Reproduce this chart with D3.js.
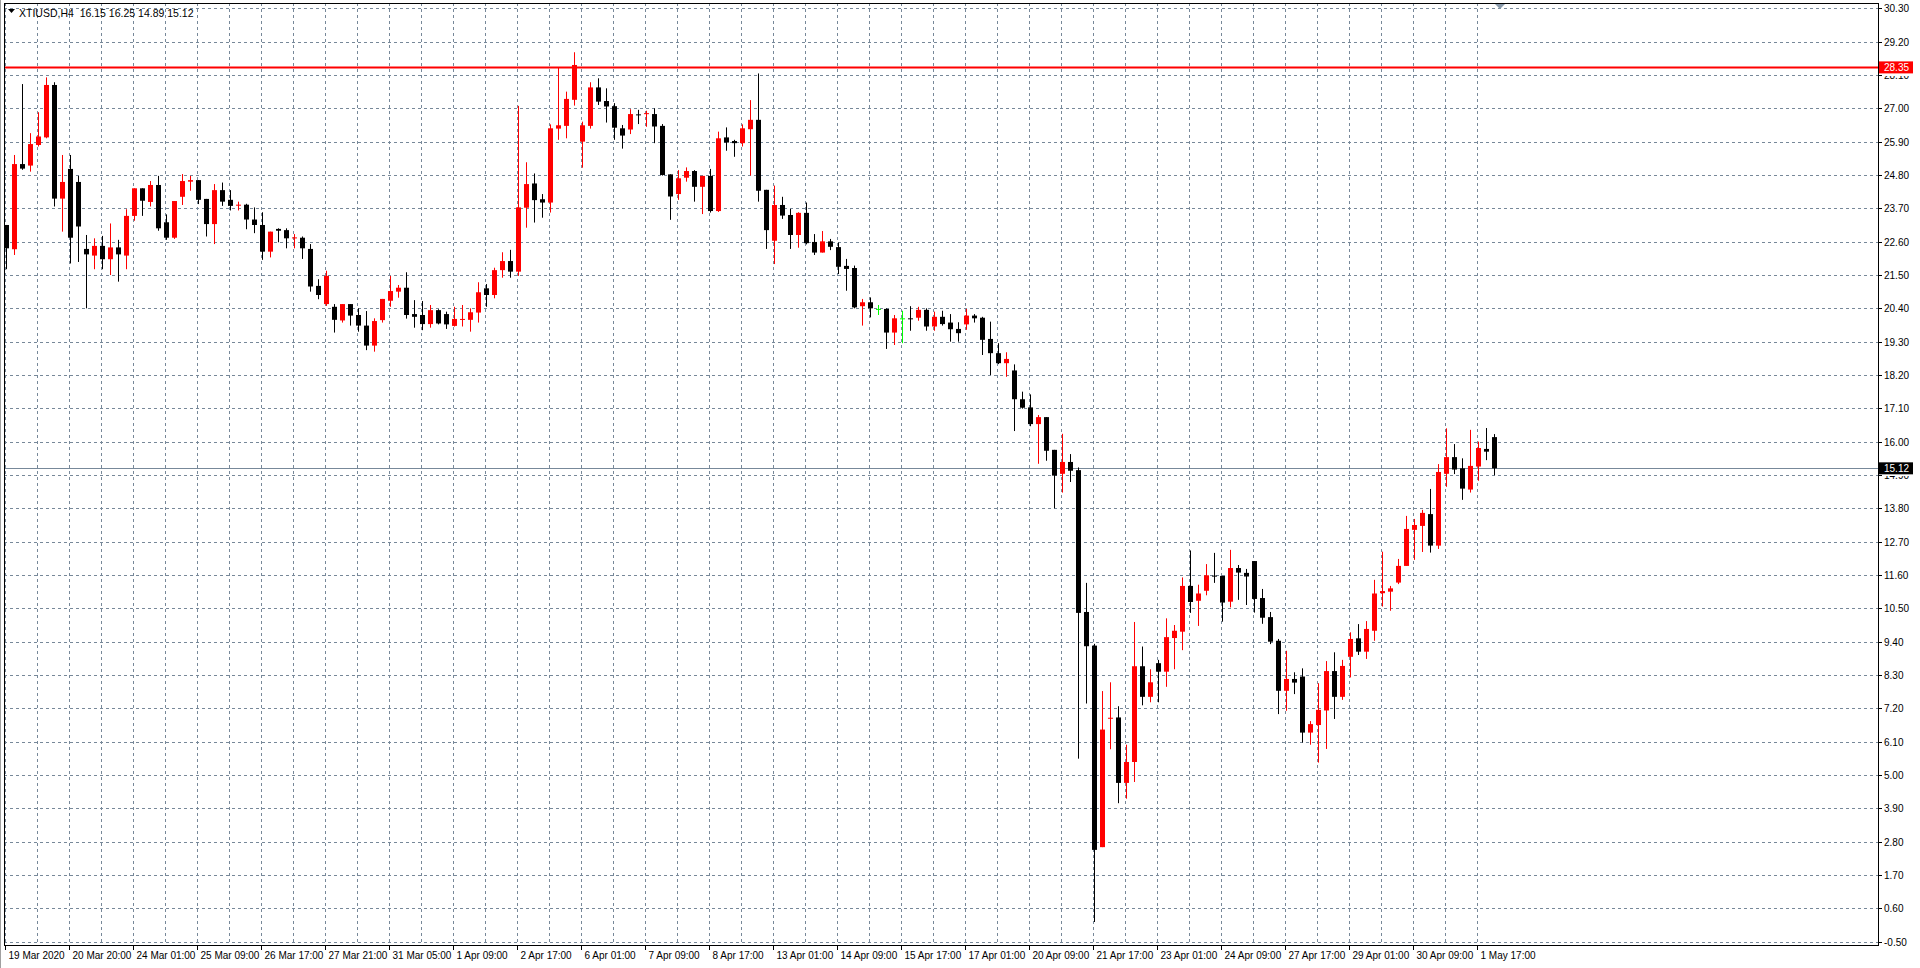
<!DOCTYPE html>
<html lang="en">
<head>
<meta charset="UTF-8">
<title>XTIUSD,H4</title>
<script src="https://d3js.org/d3.v7.min.js"></script>
<style>
  body { margin: 0; background: #fff; }
  svg { display: block; font-family: "Liberation Sans", Arial, sans-serif; }
</style>
</head>
<body>
<div id="chart"></div>
<script>
// H4 candles
const opens = [23.15,22.35,25.16,25.11,25.79,26.04,27.77,24.02,25.00,24.57,22.36,22.14,22.46,22.02,22.41,22.14,23.45,24.36,23.91,24.47,
  23.24,22.73,24.08,24.58,24.63,24.01,23.18,24.30,23.98,23.80,23.82,23.33,23.15,22.27,23.02,22.98,22.71,22.73,22.36,21.14,
  20.54,20.45,20.00,20.54,20.18,19.83,19.17,20.01,20.65,20.95,21.08,20.21,20.18,19.88,20.34,20.21,19.82,20.04,20.02,20.26,
  21.06,20.84,21.66,21.96,21.61,23.72,24.52,24.00,23.89,26.33,26.42,27.28,25.90,26.42,27.69,27.24,27.07,26.34,26.30,26.80,
  26.83,26.81,26.42,24.82,24.17,24.71,24.93,24.41,24.77,23.61,26.04,25.92,25.85,26.31,26.62,24.31,22.63,23.81,23.48,22.82,
  23.55,22.59,22.24,22.61,22.42,21.80,21.73,20.47,20.60,20.38,20.38,19.60,20.07,20.07,20.09,20.35,19.80,20.12,19.93,19.72,
  19.87,20.16,20.09,19.39,18.92,18.59,18.35,17.40,17.13,16.58,16.81,15.73,14.94,15.33,15.06,10.38,9.27,2.62,6.87,6.90,
  4.74,5.43,8.59,7.58,8.69,8.41,9.52,9.73,11.24,10.75,11.08,11.58,11.57,10.72,11.83,11.67,12.06,10.84,10.21,9.43,
  7.78,8.17,8.25,6.40,6.65,7.13,8.43,7.58,8.90,9.51,9.07,9.76,11.00,11.05,11.35,11.90,13.09,13.22,13.61,12.57,
  14.94,15.49,15.12,14.42,15.18,15.76,16.15];
const highs = [23.15,25.46,27.80,26.18,26.87,28.02,27.86,25.46,25.46,24.77,22.82,22.71,22.79,23.20,22.66,23.67,24.36,24.36,24.60,24.77,
  23.50,23.94,24.83,24.77,24.63,24.01,24.50,24.55,24.30,23.92,23.85,23.73,23.57,22.93,23.04,23.04,22.85,22.77,22.52,21.36,
  21.64,20.54,20.54,20.54,20.40,20.31,20.07,20.71,21.47,21.17,21.59,20.67,20.64,20.51,20.37,20.29,20.45,20.51,20.40,21.26,
  21.20,21.74,22.25,22.33,27.08,25.22,24.85,24.17,26.47,28.34,27.55,28.85,26.56,27.86,27.99,27.66,27.17,26.45,26.97,26.95,
  26.92,27.00,26.48,24.82,24.96,25.05,24.96,24.77,25.00,26.23,26.37,25.96,26.47,27.27,28.15,24.31,24.45,24.08,23.68,23.57,
  23.89,22.85,22.95,22.69,22.57,22.03,21.81,20.71,20.76,20.51,20.40,20.18,20.32,20.47,20.45,20.40,20.29,20.32,20.21,19.94,
  20.38,20.21,20.12,19.96,19.25,18.95,18.55,17.65,17.56,16.88,16.81,15.73,16.26,15.59,15.15,11.34,9.33,7.77,8.06,7.27,
  6.00,10.05,9.24,8.49,8.80,10.17,9.95,11.52,12.41,11.28,11.96,12.33,11.57,12.43,11.93,11.80,12.06,11.14,10.38,9.49,
  9.10,8.39,8.52,6.78,8.03,8.76,9.05,8.80,9.71,9.98,10.08,11.44,12.37,11.24,12.13,13.55,13.45,13.75,14.44,15.26,
  16.44,15.92,15.45,16.39,16.00,16.45,16.25];
const lows = [21.69,22.16,24.97,24.91,25.74,26.01,23.76,22.93,21.88,21.93,20.40,21.69,21.69,21.50,21.28,21.69,23.29,23.45,23.76,22.96,
  22.66,22.69,23.81,24.28,23.84,22.77,22.52,23.78,23.63,23.63,23.01,22.88,22.00,22.08,22.58,22.38,22.38,22.03,20.95,20.70,
  20.48,19.60,19.93,19.83,19.63,19.02,18.97,19.93,20.45,20.75,20.06,19.76,19.68,19.76,19.87,19.72,19.80,19.80,19.63,19.93,
  20.45,20.73,21.41,21.41,21.47,23.06,23.23,23.39,23.56,25.96,26.01,27.09,25.04,26.33,27.11,26.53,25.96,25.67,26.15,26.48,
  26.39,25.85,24.78,23.32,23.98,24.58,23.92,23.51,23.56,23.58,25.60,25.40,25.74,24.78,23.92,22.36,21.86,23.35,22.36,22.40,
  22.51,22.16,22.24,22.32,21.53,20.98,20.40,19.83,20.10,20.18,19.06,19.19,19.25,19.66,19.99,19.66,19.66,19.83,19.30,19.30,
  19.69,19.93,18.86,18.20,18.56,18.14,16.35,17.09,16.51,15.27,15.37,13.80,14.32,14.67,5.54,7.36,0.15,2.62,5.85,4.07,
  4.22,4.77,7.30,7.40,7.40,7.91,8.49,9.12,10.35,9.92,10.93,11.34,10.06,10.53,10.78,10.61,10.36,9.99,9.32,7.01,
  7.12,7.67,6.07,6.00,5.41,5.86,6.85,7.48,8.22,8.96,8.83,9.43,10.56,10.42,11.30,11.90,12.10,12.36,12.34,12.46,
  14.51,14.93,14.08,14.32,14.71,15.39,14.89];
const closes = [22.38,25.16,25.01,25.82,26.07,27.77,24.02,24.57,22.73,23.10,22.18,22.46,22.02,22.41,22.18,23.45,24.36,23.95,24.47,23.04,
  22.73,23.94,24.60,24.63,23.98,23.18,24.30,23.92,23.78,23.82,23.33,23.15,22.27,22.93,22.96,22.71,22.74,22.38,21.12,20.84,
  21.47,20.02,20.54,20.16,19.83,19.17,19.98,20.71,20.97,21.08,20.18,20.12,19.88,20.34,19.90,19.87,20.05,20.05,20.27,20.93,
  20.84,21.66,21.96,21.61,23.73,24.50,23.97,23.89,26.34,26.44,27.31,28.43,26.44,27.69,27.22,27.06,26.36,26.10,26.81,26.78,
  26.84,26.40,24.80,24.09,24.69,24.93,24.41,24.77,23.61,26.01,25.87,25.85,26.34,26.62,24.28,22.98,23.81,23.46,22.82,23.55,
  22.55,22.24,22.61,22.43,21.77,21.70,20.43,20.60,20.40,20.38,19.60,20.07,20.07,20.04,20.35,19.80,20.12,19.88,19.71,19.58,
  20.16,20.07,19.36,18.92,18.59,18.73,17.40,17.12,16.58,16.81,15.70,14.88,15.33,15.04,10.35,9.25,2.53,6.50,6.89,4.74,
  5.43,8.59,7.58,8.06,8.41,9.55,9.76,11.24,10.71,10.99,11.59,11.56,10.69,11.83,11.68,11.55,10.81,10.19,9.40,7.78,
  8.17,8.05,6.40,6.68,7.15,8.43,7.58,8.60,9.49,9.07,9.82,10.99,11.07,11.16,11.90,13.12,13.25,13.65,12.57,15.00,
  15.49,15.08,14.45,15.20,15.79,15.67,15.12];

const timeLabels = ["19 Mar 2020","20 Mar 20:00","24 Mar 01:00","25 Mar 09:00","26 Mar 17:00","27 Mar 21:00","31 Mar 05:00",
  "1 Apr 09:00","2 Apr 17:00","6 Apr 01:00","7 Apr 09:00","8 Apr 17:00","13 Apr 01:00","14 Apr 09:00","15 Apr 17:00",
  "17 Apr 01:00","20 Apr 09:00","21 Apr 17:00","23 Apr 01:00","24 Apr 09:00","27 Apr 17:00","29 Apr 01:00","30 Apr 09:00","1 May 17:00"];
const priceTicks = d3.range(0, 29).map(i => +(-0.5 + i * 1.1).toFixed(2));
const resistance = 28.35;
const lastPrice = 15.12;

const W = 1920, H = 968;
const plotL = 4, plotR = 1878, plotT = 3, plotB = 945;

const svg = d3.select("#chart").append("svg").attr("width", W).attr("height", H);

const x = d3.scaleLinear().domain([0, 186]).range([6, 1494]);
const y = d3.scaleLinear().domain([-0.5, 30.3]).range([941.7, 8.3]);

svg.append("rect").attr("x", 0).attr("y", 0).attr("width", W).attr("height", H).attr("fill", "#fff");

// grid
const grid = svg.append("g").attr("stroke", "#778899").attr("stroke-dasharray", "3,3").attr("stroke-width", 1);
d3.range(0, 47).forEach(k => {
  const gx = Math.round(x(k * 4) - 0.6) + 0.5;
  if (gx < plotR) grid.append("line").attr("x1", gx).attr("x2", gx).attr("y1", plotT).attr("y2", plotB);
});
priceTicks.forEach(v => {
  const gy = Math.round(y(v)) + 0.5;
  grid.append("line").attr("x1", plotL).attr("x2", plotR).attr("y1", gy).attr("y2", gy);
});

// horizontal levels
svg.append("line").attr("x1", plotL).attr("x2", plotR)
  .attr("y1", Math.round(y(resistance)) + 0.5).attr("y2", Math.round(y(resistance)) + 0.5)
  .attr("stroke", "#ff0000").attr("stroke-width", 2);
svg.append("line").attr("x1", plotL).attr("x2", plotR)
  .attr("y1", Math.round(y(lastPrice)) + 0.5).attr("y2", Math.round(y(lastPrice)) + 0.5)
  .attr("stroke", "#778899").attr("stroke-width", 1);

// candles
const candles = d3.range(opens.length).map(i => ({ i, o: opens[i], h: highs[i], l: lows[i], c: closes[i] }));
const colorOf = d => d.c > d.o ? "#ff0000" : (d.c < d.o ? "#000000" : "#00ff00");
const cg = svg.append("g");
cg.selectAll("line.wick").data(candles).enter().append("line")
  .attr("x1", d => Math.round(x(d.i)) + 0.5).attr("x2", d => Math.round(x(d.i)) + 0.5)
  .attr("y1", d => y(d.h)).attr("y2", d => y(d.l))
  .attr("stroke", colorOf).attr("stroke-width", 1);
cg.selectAll("rect.body").data(candles).enter().append("rect")
  .attr("x", d => Math.round(x(d.i)) - 2)
  .attr("y", d => y(Math.max(d.o, d.c)))
  .attr("width", 5)
  .attr("height", d => Math.max(1, y(Math.min(d.o, d.c)) - y(Math.max(d.o, d.c))))
  .attr("fill", colorOf);

// frame
svg.append("rect").attr("x", plotL + 0.5).attr("y", plotT + 0.5)
  .attr("width", plotR - plotL).attr("height", plotB - plotT)
  .attr("fill", "none").attr("stroke", "#000");
svg.append("line").attr("x1", 0.5).attr("x2", 0.5).attr("y1", 0).attr("y2", H).attr("stroke", "#a0a0a0");

// price axis (labels hidden under the current-price box are skipped)
const pa = svg.append("g").attr("font-size", 10).attr("fill", "#000");
priceTicks.forEach(v => {
  const py = Math.round(y(v)) + 0.5;
  pa.append("line").attr("x1", plotR).attr("x2", plotR + 4).attr("y1", py).attr("y2", py).attr("stroke", "#000");
  if (Math.abs(y(v) - y(lastPrice)) > 10 && Math.abs(y(v) - y(resistance)) > 10)
    pa.append("text").attr("x", plotR + 6).attr("y", py + 3.5).text(v.toFixed(2));
  else
    pa.append("text").attr("x", plotR + 6).attr("y", py + 3.5).attr("clip-path", "inset(6px 0 0 0)").text(v.toFixed(2));
});
function priceBox(v, bg) {
  const py = y(v);
  svg.append("rect").attr("x", plotR + 1).attr("y", py - 6).attr("width", 34).attr("height", 12).attr("fill", bg);
  svg.append("text").attr("x", plotR + 6).attr("y", py + 4).attr("font-size", 10).attr("fill", "#fff").text(v.toFixed(2));
}
priceBox(resistance, "#ff0000");
priceBox(lastPrice, "#000000");

// time axis
const ta = svg.append("g").attr("font-size", 10).attr("fill", "#000");
timeLabels.forEach((t, k) => {
  const tx = Math.round(x(k * 8) - 0.6) + 0.5;
  ta.append("line").attr("x1", tx).attr("x2", tx).attr("y1", plotB).attr("y2", plotB + 5).attr("stroke", "#000");
  ta.append("text").attr("x", tx + 3).attr("y", plotB + 14).text(t);
});

// header
svg.append("path").attr("d", "M8,9 L15,9 L11.5,13 Z").attr("fill", "#000");
svg.append("text").attr("x", 19).attr("y", 17).attr("font-size", 10.5).attr("fill", "#000")
  .style("white-space", "pre").text("XTIUSD,H4  16.15 16.25 14.89 15.12");
// chart shift marker
svg.append("path").attr("d", "M1495,4 L1505,4 L1500,9 Z").attr("fill", "#8899aa");
</script>
</body>
</html>
